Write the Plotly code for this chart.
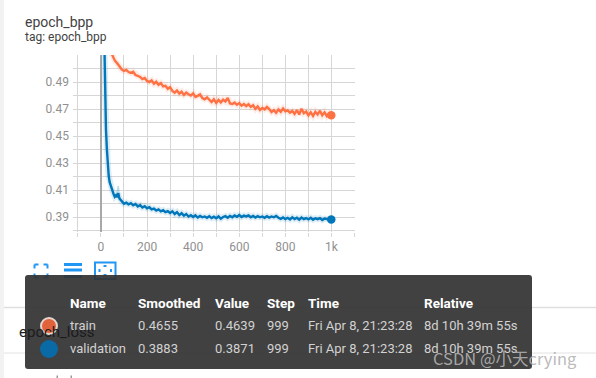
import plotly.graph_objects as go

W, H = 596, 378
L, R, T, B = 73, 355, 55, 232

train_steps = list(range(40, 1000, 10)) + [999]
train_smoothed = [
0.5135,0.5092,0.5060,0.5040,0.5012,0.4994,0.4982,0.4990,0.4974,0.4968,
0.4976,0.4952,0.4945,0.4938,0.4922,0.4930,0.4908,0.4900,0.4912,0.4888,
0.4902,0.4880,0.4892,0.4868,0.4872,0.4850,0.4862,0.4835,0.4822,0.4838,
0.4815,0.4828,0.4805,0.4822,0.4810,0.4800,0.4816,0.4790,0.4798,0.4808,
0.4782,0.4772,0.4786,0.4765,0.4752,0.4772,0.4746,0.4768,0.4750,0.4770,
0.4756,0.4782,0.4742,0.4738,0.4748,0.4732,0.4744,0.4725,0.4738,0.4722,
0.4736,0.4716,0.4728,0.4702,0.4720,0.4694,0.4708,0.4698,0.4716,0.4700,
0.4678,0.4692,0.4672,0.4698,0.4680,0.4704,0.4684,0.4690,0.4674,0.4686,
0.4664,0.4692,0.4660,0.4702,0.4670,0.4682,0.4654,0.4676,0.4650,0.4680,
0.4660,0.4688,0.4654,0.4676,0.4648,0.4668,0.4655]

validation_steps = [2,6,10,13,16,19,22,26,30,34,38,42,46,50,55,60,65,70,75,80] + list(range(90, 1000, 10)) + [999]
validation_smoothed = [
0.95,0.72,0.62,0.57,0.51,0.478,0.455,0.440,0.428,0.4205,0.4160,0.4135,0.4110,0.4090,
0.4072,0.4052,0.4062,0.4048,0.4078,0.4040,
0.4018,0.4000,0.4008,0.3996,0.4004,0.3988,0.3998,0.3980,0.3990,0.3972,
0.3982,0.3966,0.3974,0.3958,0.3964,0.3950,0.3958,0.3944,0.3952,0.3938,
0.3946,0.3932,0.3944,0.3924,0.3938,0.3916,0.3930,0.3912,0.3924,0.3906,
0.3916,0.3902,0.3914,0.3898,0.3910,0.3900,0.3906,0.3896,0.3908,0.3894,
0.3904,0.3892,0.3906,0.3890,0.3902,0.3908,0.3896,0.3910,0.3900,0.3914,
0.3904,0.3916,0.3902,0.3912,0.3906,0.3914,0.3900,0.3910,0.3898,0.3908,
0.3900,0.3906,0.3896,0.3908,0.3898,0.3906,0.3900,0.3910,0.3896,0.3888,
0.3898,0.3886,0.3896,0.3884,0.3900,0.3886,0.3896,0.3882,0.3898,0.3886,
0.3894,0.3884,0.3896,0.3882,0.3892,0.3886,0.3894,0.3880,0.3890,0.3884,0.3883]

validation_raw_steps = [68, 75, 82]
validation_raw_values = [0.4060, 0.4130, 0.4045]

x_ticks = [0, 200, 400, 600, 800, 1000]
x_labels = ["0", "200", "400", "600", "800", "1k"]
y_ticks = [0.39, 0.41, 0.43, 0.45, 0.47, 0.49]
y_labels = ["0.39", "0.41", "0.43", "0.45", "0.47", "0.49"]

headers = ["Name", "Smoothed", "Value", "Step", "Time", "Relative"]
row_train = ["train", "0.4655", "0.4639", "999", "Fri Apr 8, 21:23:28", "8d 10h 39m 55s"]
row_val = ["validation", "0.3883", "0.3871", "999", "Fri Apr 8, 21:23:28", "8d 10h 39m 55s"]
col_px = [70, 138.3, 214.7, 266.7, 307.7, 424]

ORANGE, BLUE = "#ff7043", "#0077bb"
FONT = "Roboto"

px = lambda v: (v - L) / (R - L)
py = lambda v: (B - v) / (B - T)

fig = go.Figure()
for xs, ys, c in [(train_steps, train_smoothed, ORANGE), (validation_steps, validation_smoothed, BLUE)]:
    fig.add_trace(go.Scatter(x=xs, y=ys, mode="lines", line=dict(color=c, width=6), opacity=0.13, hoverinfo="skip"))
fig.add_trace(go.Scatter(x=validation_raw_steps, y=validation_raw_values, mode="lines", line=dict(color=BLUE, width=1.5), opacity=0.25, hoverinfo="skip"))
for xs, ys, c in [(train_steps, train_smoothed, ORANGE), (validation_steps, validation_smoothed, BLUE)]:
    fig.add_trace(go.Scatter(x=xs, y=ys, mode="lines", line=dict(color=c, width=2.4)))
    fig.add_trace(go.Scatter(x=xs[-1:], y=ys[-1:], mode="markers", marker=dict(color=c, size=8.5)))

shapes = []
def rect(x0, y0, x1, y1, fill=None, line=None, lw=0):
    shapes.append(dict(type="rect", xref="paper", yref="paper", x0=px(x0), x1=px(x1), y0=py(y1), y1=py(y0),
                       fillcolor=fill or "rgba(0,0,0,0)", line=dict(color=line or "rgba(0,0,0,0)", width=lw), layer="above"))
def hline(x0, x1, y, color, lw=1):
    shapes.append(dict(type="line", xref="paper", yref="paper", x0=px(x0), x1=px(x1), y0=py(y), y1=py(y),
                       line=dict(color=color, width=lw), layer="above"))

# page strip and card borders
rect(0, 0, 4, H, fill="#f2f2f2")
hline(4, W, 307.5, "#dedede", 1.5)
hline(4, W, 353, "#e2e2e2", 1)
rect(56.5, 375.5, 58, H, fill="#9a9a9a")
rect(70.5, 375.5, 72, H, fill="#9a9a9a")

# toolbar icons (the tooltip covers their lower part)
ICON = "#2196f3"
for (a, b), (c, d) in [((34.5, 264.5), (38.5, 264.5)), ((34.5, 264.5), (34.5, 268.5)), ((43.5, 264.5), (47.5, 264.5)), ((47.5, 264.5), (47.5, 268.5)),
                       ((34.5, 277.5), (38.5, 277.5)), ((34.5, 273.5), (34.5, 277.5)), ((43.5, 277.5), (47.5, 277.5)), ((47.5, 273.5), (47.5, 277.5))]:
    shapes.append(dict(type="line", xref="paper", yref="paper", x0=px(a), x1=px(c), y0=py(b), y1=py(d),
                       line=dict(color=ICON, width=2), layer="above"))
for y in (264.5, 270, 276.5):
    hline(64, 82, y, ICON, 3)
shapes.append(dict(type="rect", xref="paper", yref="paper", x0=px(95), x1=px(115.5), y0=py(279), y1=py(262.5),
                   line=dict(color=ICON, width=2), fillcolor="rgba(0,0,0,0)", layer="above"))
for x0, y0, x1, y1 in [(103.5, 265, 106.5, 267), (103.5, 274, 106.5, 276), (98.5, 269, 100.5, 272), (110, 269, 112, 272)]:
    rect(x0, y0, x1, y1, fill=ICON)

# tooltip
shapes.append(dict(type="path", xref="paper", yref="paper", layer="above", fillcolor="rgba(51,51,51,0.93)", line=dict(width=0),
    path=f"M {px(27)} {py(275)} L {px(529)} {py(275)} Q {px(532)} {py(275)} {px(532)} {py(278)} L {px(532)} {py(366)} Q {px(532)} {py(369)} {px(529)} {py(369)} "
         f"L {px(28)} {py(369)} Q {px(25)} {py(369)} {px(25)} {py(366)} L {px(25)} {py(278)} Q {px(25)} {py(275)} {px(28)} {py(275)} Z"))
def circle(cx, cy, r, fill, line=None, lw=0):
    shapes.append(dict(type="circle", xref="paper", yref="paper", x0=px(cx - r), x1=px(cx + r), y0=py(cy + r), y1=py(cy - r),
                       fillcolor=fill, line=dict(color=line or "rgba(0,0,0,0)", width=lw), layer="above"))
circle(49, 326, 8, "#e0633c", "#e6d5cd", 2)
circle(49, 349, 9, "#0a6aa5")

ann = []
def text(x, y, s, size, color, weight=None, family=FONT):
    t = f"<b>{s}</b>" if weight else s
    ann.append(dict(xref="paper", yref="paper", x=px(x), y=py(y), text=t, showarrow=False, xanchor="left", yanchor="middle",
                    align="left", font=dict(family=family, size=size, color=color), xshift=-2))
text(25, 22, "epoch_bpp", 14, "#424242")
text(25, 37, "tag: epoch_bpp", 12, "#424242")
text(19, 332, "epoch_loss", 15, "#1c1c1c")
for x, h in zip(col_px, headers):
    text(x, 303, h, 13.5, "#ffffff", True)
for x, v in zip(col_px, row_train):
    text(x, 325.5, v, 13, "#d2d2d2")
for x, v in zip(col_px, row_val):
    text(x, 348, v, 13, "#d2d2d2")
text(433, 358, "CSDN @小天crying", 16.5, "rgba(178,178,178,0.9)", family="Noto Sans CJK SC")

GRID = "#d6d6d6"
fig.update_layout(
    width=W, height=H, autosize=False, showlegend=False, plot_bgcolor="white", paper_bgcolor="white",
    margin=dict(l=L, r=W - R, t=T, b=H - B, pad=0), shapes=shapes, annotations=ann,
    font=dict(family=FONT, size=12, color="#8a8a8a"),
    xaxis=dict(range=[-121, 1102], tickmode="array", tickvals=x_ticks, ticktext=x_labels, showgrid=True, gridcolor=GRID, gridwidth=1,
               zeroline=True, zerolinecolor="#a8a8a8", zerolinewidth=2, ticks="outside", ticklen=4, tickcolor=GRID,
               minor=dict(tickmode="array", tickvals=[-100, 100, 300, 500, 700, 900, 1100], showgrid=True, gridcolor=GRID, gridwidth=1, ticks="outside", ticklen=4, tickcolor=GRID),
               showline=False, tickfont=dict(size=12, color="#909090")),
    yaxis=dict(range=[0.3791, 0.51], tickmode="array", tickvals=y_ticks, ticktext=y_labels, showgrid=True, gridcolor=GRID, gridwidth=1,
               zeroline=False, ticks="", ticklabelstandoff=3,
               minor=dict(tickmode="array", tickvals=[0.38, 0.40, 0.42, 0.44, 0.46, 0.48, 0.50, 0.51], showgrid=True, gridcolor=GRID, gridwidth=1),
               showline=False, tickfont=dict(size=12, color="#909090")),
)
fig.write_html("out.html", config=dict(displayModeBar=False),
               post_script="document.body.style.margin='0';document.documentElement.style.overflow='hidden';")
